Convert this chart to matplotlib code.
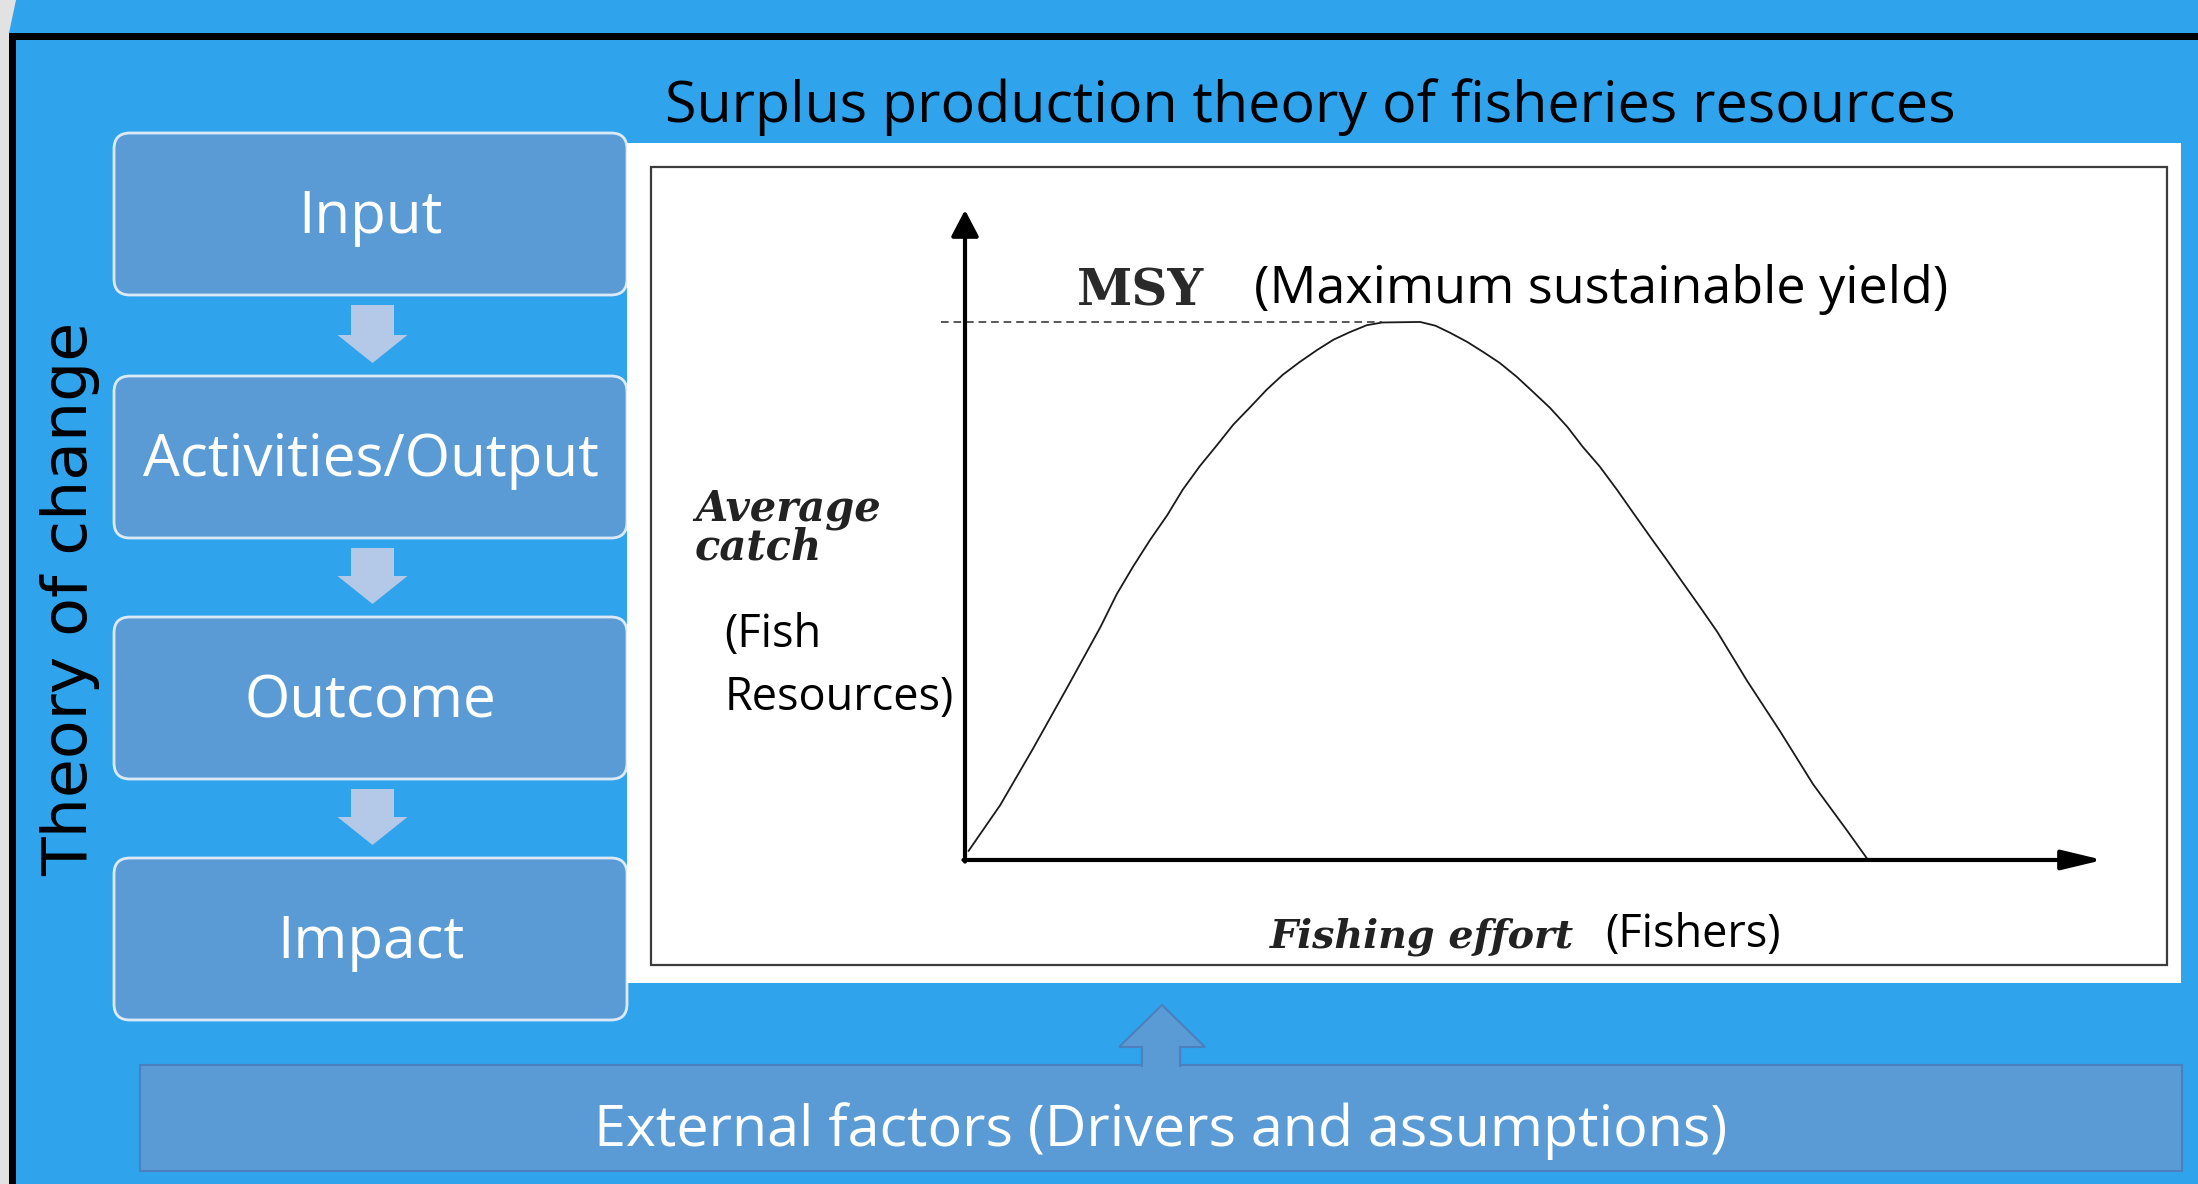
import matplotlib
matplotlib.use('Agg')
import matplotlib.pyplot as plt
from matplotlib.patches import FancyBboxPatch, Rectangle, Polygon

# ---- data ----
stages = ['Input', 'Activities/Output', 'Outcome', 'Impact']
# surplus production curve: fishing effort (0-100) vs average catch (MSY = 100)
effort = [0.4, 3.9, 7.5, 11.3, 15.0, 16.8, 18.6, 20.5, 22.4, 24.1, 26.0, 27.9,
          29.7, 31.6, 33.4, 35.2, 37.1, 39.0, 40.8, 42.6, 44.5, 46.2, 50.4,
          52.1, 53.7, 55.6, 57.4, 59.2, 61.1, 62.9, 64.8, 66.7, 68.4, 70.3,
          72.2, 74.0, 75.9, 77.7, 79.5, 81.4, 83.3, 86.6, 90.3, 93.9, 97.7,
          100.0]
catch = [1.7, 10.2, 20.6, 32.0, 43.3, 49.4, 54.5, 59.5, 64.1, 68.8, 73.2, 77.1,
         80.9, 84.2, 87.4, 90.2, 92.6, 94.8, 96.7, 98.1, 99.4, 99.9, 100.0,
         99.3, 98.0, 96.3, 94.4, 92.4, 89.8, 87.0, 84.0, 80.5, 76.8, 73.1,
         68.8, 64.5, 60.0, 55.8, 51.5, 47.0, 42.4, 33.3, 23.8, 14.1, 5.4,
         0.0]
msy_catch = 100.0
msy_effort = 46.2

BG = '#2FA3EB'
BOX = '#5B9BD5'
ARROW_LIGHT = '#B4C8E8'
SANS = ['Open Sans', 'DejaVu Sans']
SERIF = ['DejaVu Serif']

W, H = 2198, 1184
fig = plt.figure(figsize=(W / 100, H / 100), dpi=100, facecolor=BG)

# background layer in pixel coordinates
bg = fig.add_axes([0, 0, 1, 1])
bg.set_xlim(0, W)
bg.set_ylim(H, 0)
bg.axis('off')

# window edge: grey strip + black border
bg.add_patch(Rectangle((0, 0), 9, H, facecolor='#E2E2E2', edgecolor='none'))
bg.add_patch(Polygon([(0, 0), (16, 0), (9, 33), (0, 33)], closed=True,
                     facecolor='#E2E2E2', edgecolor='none'))
bg.add_patch(Rectangle((9, 33), W - 9, 7, facecolor='black', edgecolor='none'))
bg.add_patch(Rectangle((9, 33), 7, H - 33, facecolor='black', edgecolor='none'))

# "Theory of change" vertical label
bg.text(70, 599, 'Theory of change', rotation=90, ha='center', va='center',
        fontsize=45.5, family=['DejaVu Sans'], color='black')


def down_arrow(cx, top, tip, shaft_w=43, head_w=70, head_len=28, color=ARROW_LIGHT):
    base = tip - head_len
    pts = [(cx - shaft_w / 2, top), (cx + shaft_w / 2, top), (cx + shaft_w / 2, base),
           (cx + head_w / 2, base), (cx, tip), (cx - head_w / 2, base),
           (cx - shaft_w / 2, base)]
    bg.add_patch(Polygon(pts, closed=True, facecolor=color, edgecolor='none'))


# ---- left flow of boxes ----
box_x0, box_x1 = 114, 627
box_h = 162
box_tops = [133, 376, 617, 858]
for i, (label, top) in enumerate(zip(stages, box_tops)):
    bg.add_patch(FancyBboxPatch((box_x0, top), box_x1 - box_x0, box_h,
                                boxstyle='round,pad=0,rounding_size=16',
                                facecolor=BOX, edgecolor='#DCEAF7', linewidth=2))
    bg.text((box_x0 + box_x1) / 2, top + 100, label, ha='center', va='baseline',
            fontsize=42, family=SANS, color='white')
    if i < len(stages) - 1:
        down_arrow((box_x0 + box_x1) / 2 + 2, top + box_h + 10, box_tops[i + 1] - 13)

# ---- right panel ----
bg.text(1310, 122, 'Surplus production theory of fisheries resources',
        ha='center', va='baseline', fontsize=41.3, family=SANS, color='black')
bg.add_patch(Rectangle((627, 143), 2181 - 627, 983 - 143, facecolor='white',
                       edgecolor='none'))
bg.add_patch(Rectangle((651, 167), 2167 - 651, 965 - 167, facecolor='white',
                       edgecolor='#3C3C3C', linewidth=1.6))

# text labels of the inner chart
bg.text(1077, 305, 'MSY', ha='left', va='baseline', fontsize=36,
        family=SERIF, weight='bold', color='#2A2A2A')
bg.text(1254, 303, '(Maximum sustainable yield)', ha='left', va='baseline',
        fontsize=37.5, family=SANS, color='black')
bg.text(695, 520, 'Average', ha='left', va='baseline', fontsize=30,
        family=SERIF, style='italic', weight='bold', color='#222222')
bg.text(695, 560, 'catch', ha='left', va='baseline', fontsize=30,
        family=SERIF, style='italic', weight='bold', color='#222222')
bg.text(724, 647, '(Fish', ha='left', va='baseline', fontsize=32.5,
        family=SANS, color='black')
bg.text(725, 710, 'Resources)', ha='left', va='baseline', fontsize=32.5,
        family=SANS, color='black')
bg.text(1270, 948, 'Fishing effort', ha='left', va='baseline', fontsize=28.5,
        family=SERIF, style='italic', weight='bold', color='#222222')
bg.text(1605, 947, '(Fishers)', ha='left', va='baseline', fontsize=32.5,
        family=SANS, color='black')

# ---- bottom box and up arrow ----
bg.add_patch(Rectangle((140, 1065), 2182 - 140, 1171 - 1065, facecolor=BOX,
                       edgecolor='#4A80BE', linewidth=1.5))
up = [(1142, 1066), (1142, 1047), (1119, 1047), (1162, 1005), (1205, 1047),
      (1180, 1047), (1180, 1066)]
bg.add_patch(Polygon(up, closed=True, facecolor=BOX, edgecolor='#4A80BE',
                     linewidth=1.5))
bg.add_patch(Rectangle((1143, 1060), 36, 8, facecolor=BOX, edgecolor='none'))
bg.text(1161, 1146, 'External factors (Drivers and assumptions)', ha='center',
        va='baseline', fontsize=41.3, family=SANS, color='white')

# ---- the curve, in its own data axes laid over the inner frame ----
ax = fig.add_axes([651 / W, 1 - 965 / H, (2167 - 651) / W, (965 - 167) / H])
ax.set_xlim(-34.77, 133.1)
ax.set_ylim(-19.52, 128.8)
ax.axis('off')
ax.patch.set_alpha(0)

ax.plot(effort, catch, color='#1A1A1A', lw=1.3, solid_joinstyle='round')
ax.plot([-2.7, msy_effort], [msy_catch, msy_catch], color='#2A2A2A', lw=1.1,
        dashes=(5, 3.2))
# axes arrows
ax.annotate('', xy=(0, 120.8), xytext=(0, -0.3),
            arrowprops=dict(arrowstyle='-|>,head_length=0.8,head_width=0.42',
                            mutation_scale=20, lw=3, color='black',
                            shrinkA=0, shrinkB=0))
ax.annotate('', xy=(126, 0), xytext=(-0.17, 0),
            arrowprops=dict(arrowstyle='-|>,head_length=1.25,head_width=0.3',
                            mutation_scale=20, lw=3, color='black',
                            shrinkA=0, shrinkB=0))

fig.savefig('out.png', dpi=100, facecolor=BG)
